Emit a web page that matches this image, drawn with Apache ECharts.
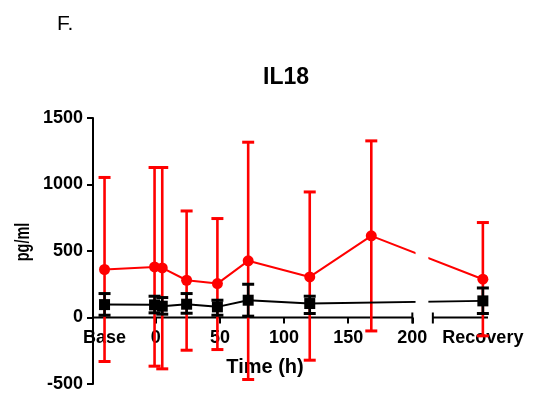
<!DOCTYPE html>
<html>
<head>
<meta charset="utf-8">
<script src="https://cdn.jsdelivr.net/npm/echarts@6/dist/echarts.min.js"></script>
<style>
  html, body { margin: 0; padding: 0; background: #fff; }
  #chart { width: 534px; height: 393px; }
</style>
</head>
<body>
<div id="chart"></div>
<script>
const FONT = "'Liberation Sans', Arial, sans-serif"

// x positions in hours; Base and Recovery sit outside the time scale
const BASE_X = -40
const RECOVERY_X = 255
const X_LABEL_VALUES = [BASE_X, 0, 50, 100, 150, 200, RECOVERY_X]
const X_TICK_VALUES = [0, 50, 100, 150, 200]
const AXIS_SEGMENTS = [[-49, 200], [216, 259]]
const LINE_GAP = [[202.5, 212.5]]

const redTimes = [BASE_X, -1, 5, 24, 48, 72, 120, 168, RECOVERY_X]
const redMean = [361, 380, 373, 280, 255, 426, 305, 614, 288]
const redHigh = [1053, 1128, 1128, 801, 744, 1318, 944, 1328, 714]
const redLow = [-331, -366, -386, -246, -241, -466, -321, -101, -138]

const blackTimes = [BASE_X, -1, 5, 24, 48, 72, 120, RECOVERY_X]
const blackMean = [97, 95, 85, 100, 80, 130, 105, 125]
const blackHigh = [180, 160, 150, 180, 130, 250, 160, 222]
const blackLow = [17, 35, 25, 32, 17, 10, 30, 30]

const Y_MIN = -500
const Y_MAX = 1500
const GRID_TOP = 118
const GRID_BOTTOM = 9
const PLOT_H = 393 - GRID_TOP - GRID_BOTTOM
// lift the x axis from the grid bottom to the zero line
const X_AXIS_OFFSET = -PLOT_H * (0 - Y_MIN) / (Y_MAX - Y_MIN)

const RED = '#ff0000'
const BLACK = '#000000'

function errorBars(color, capWidth) {
  return function (params, api) {
    const x = api.value(0)
    const lo = api.coord([x, api.value(1)])
    const hi = api.coord([x, api.value(2)])
    const cap = (p) => ({
      type: 'line',
      shape: { x1: p[0] - capWidth / 2, y1: p[1], x2: p[0] + capWidth / 2, y2: p[1] },
      style: { stroke: color, lineWidth: 3 },
    })
    return {
      type: 'group',
      children: [
        { type: 'line', shape: { x1: lo[0], y1: lo[1], x2: hi[0], y2: hi[1] }, style: { stroke: color, lineWidth: 2.6 } },
        cap(lo),
        cap(hi),
      ],
    }
  }
}

const chart = echarts.init(document.getElementById('chart'), null, { renderer: 'canvas' })

chart.setOption({
  animation: false,
  textStyle: { fontFamily: FONT },
  grid: { left: 93, right: 46, top: GRID_TOP, bottom: GRID_BOTTOM, containLabel: false, outerBoundsMode: 'none' },
  xAxis: {
    type: 'value',
    min: -49,
    max: 259,
    position: 'bottom',
    offset: X_AXIS_OFFSET,
    splitLine: { show: false },
    axisLine: { show: true, onZero: false, lineStyle: { color: 'transparent' } },
    axisTick: { show: true, customValues: X_TICK_VALUES, length: 6, lineStyle: { color: BLACK, width: 2 } },
    axisLabel: {
      customValues: X_LABEL_VALUES,
      margin: 12,
      color: BLACK,
      fontSize: 18,
      fontWeight: 'bold',
      fontFamily: FONT,
      formatter: (v) => (v === BASE_X ? 'Base' : v === RECOVERY_X ? 'Recovery' : String(v)),
    },
  },
  yAxis: {
    type: 'value',
    min: Y_MIN,
    max: Y_MAX,
    interval: 500,
    splitLine: { show: false },
    axisLine: { show: true, onZero: false, lineStyle: { color: BLACK, width: 2 } },
    axisTick: { show: true, length: 6, lineStyle: { color: BLACK, width: 2 } },
    axisLabel: { margin: 10, color: BLACK, fontSize: 18, fontWeight: 'bold', fontFamily: FONT, formatter: (v) => String(v) },
  },
  graphic: [
    { type: 'text', left: 57, top: 14, style: { text: 'F.', fontSize: 21, fill: BLACK, fontFamily: FONT } },
    { type: 'text', x: 286, y: 78, style: { text: 'IL18', fontSize: 23, fontWeight: 'bold', fill: BLACK, fontFamily: FONT, align: 'center', verticalAlign: 'middle' } },
    { type: 'text', x: 265, y: 367, style: { text: 'Time (h)', fontSize: 20, fontWeight: 'bold', fill: BLACK, fontFamily: FONT, align: 'center', verticalAlign: 'middle' } },
    { type: 'text', x: 23, y: 242, rotation: Math.PI / 2, scaleX: 0.72, style: { text: 'pg/ml', fontSize: 20, fontWeight: 'bold', fill: BLACK, fontFamily: FONT, align: 'center', verticalAlign: 'middle' } },
  ],
  series: [
    {
      name: 'axis',
      type: 'custom',
      z: 1,
      silent: true,
      data: AXIS_SEGMENTS,
      encode: { x: [0, 1] },
      renderItem(params, api) {
        const a = api.coord([api.value(0), 0])
        const b = api.coord([api.value(1), 0])
        const children = [{ type: 'line', shape: { x1: a[0], y1: a[1], x2: b[0], y2: b[1] }, style: { stroke: BLACK, lineWidth: 2 } }]
        const breakEnd = params.dataIndex === 0 ? b : a
        children.push({ type: 'line', shape: { x1: breakEnd[0], y1: breakEnd[1] - 5, x2: breakEnd[0], y2: breakEnd[1] + 6 }, style: { stroke: BLACK, lineWidth: 2 } })
        return { type: 'group', children }
      },
    },
    {
      name: 'red-err',
      type: 'custom',
      z: 2,
      data: redTimes.map((t, i) => [t, redLow[i], redHigh[i]]),
      encode: { x: 0, y: [1, 2] },
      renderItem: errorBars(RED, 12),
    },
    {
      name: 'red',
      type: 'line',
      z: 3,
      data: redTimes.map((t, i) => [t, redMean[i]]),
      symbol: 'circle',
      symbolSize: 11,
      itemStyle: { color: RED },
      lineStyle: { color: RED, width: 2 },
    },
    {
      name: 'black-err',
      type: 'custom',
      z: 4,
      data: blackTimes.map((t, i) => [t, blackLow[i], blackHigh[i]]),
      encode: { x: 0, y: [1, 2] },
      renderItem: errorBars(BLACK, 12),
    },
    {
      name: 'black',
      type: 'line',
      z: 5,
      data: blackTimes.map((t, i) => [t, blackMean[i]]),
      symbol: 'rect',
      symbolSize: 11,
      itemStyle: { color: BLACK },
      lineStyle: { color: BLACK, width: 2 },
    },
    {
      // white band where the lines cross the axis break (stops above the axis labels)
      name: 'gap',
      type: 'custom',
      z: 6,
      silent: true,
      data: LINE_GAP,
      encode: { x: [0, 1] },
      renderItem(params, api) {
        const a = api.coord([api.value(0), Y_MAX])
        const b = api.coord([api.value(1), 0])
        return { type: 'rect', shape: { x: a[0], y: a[1], width: b[0] - a[0], height: b[1] - a[1] - 6 }, style: { fill: '#fff' } }
      },
    },
  ],
})
</script>
</body>
</html>
